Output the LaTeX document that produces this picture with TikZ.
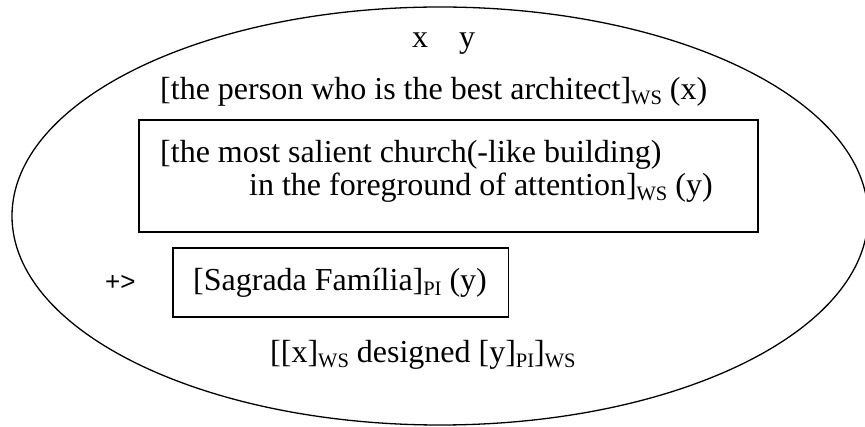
\documentclass[tikz,border=0pt]{standalone}
\usepackage{fontspec}
\setmainfont{Liberation Serif}
\newfontfamily\arialfont{Liberation Sans}
\usetikzlibrary{shapes.geometric}

% lowered, smaller index such as WS or PI
\newcommand\idx[1]{\raisebox{-4.5pt}{\fontsize{20.5}{21}\selectfont #1}}

\tikzset{
  outline/.style={draw, line width=1.3pt, ellipse, inner sep=0pt},
  framebox/.style={draw, line width=1.8pt, rectangle, inner sep=0pt},
  txt/.style={anchor=base west, inner sep=0pt, font=\fontsize{32}{38}\selectfont},
  arrowtxt/.style={anchor=base west, inner sep=0pt, font=\arialfont\fontsize{26}{30}\selectfont}
}

\begin{document}
\begin{tikzpicture}[x=1pt, y=-1pt]
  \clip (0,0) rectangle (865,427);
  \fill[white] (0,0) rectangle (865,427);

  % enclosing oval
  \node[outline, minimum width=856pt, minimum height=418pt] (oval) at (440,216) {};

  % boxes
  \node[framebox, minimum width=619pt, minimum height=112pt] (boxA) at (448.5,176) {};
  \node[framebox, minimum width=335.5pt, minimum height=69pt] (boxB) at (340.75,282.5) {};

  % texts
  \node[txt] (vars) at (412,48) {x\hspace{31pt}y};
  \node[txt] (arch) at (160,100) {[the person who is the best architect]\idx{WS} (x)};
  \node[txt] (church1) at (160,163) {[the most salient church(-like building)};
  \node[txt] (church2) at (249,196) {in the foreground of attention]\idx{WS} (y)};
  \node[arrowtxt] (plus) at (105,291) {+>};
  \node[txt] (sagrada) at (193,291) {[Sagrada Família]\idx{PI} (y)};
  \node[txt] (designed) at (270,363) {[[x]\idx{WS} designed [y]\idx{PI}]\idx{WS}};
\end{tikzpicture}
\end{document}
